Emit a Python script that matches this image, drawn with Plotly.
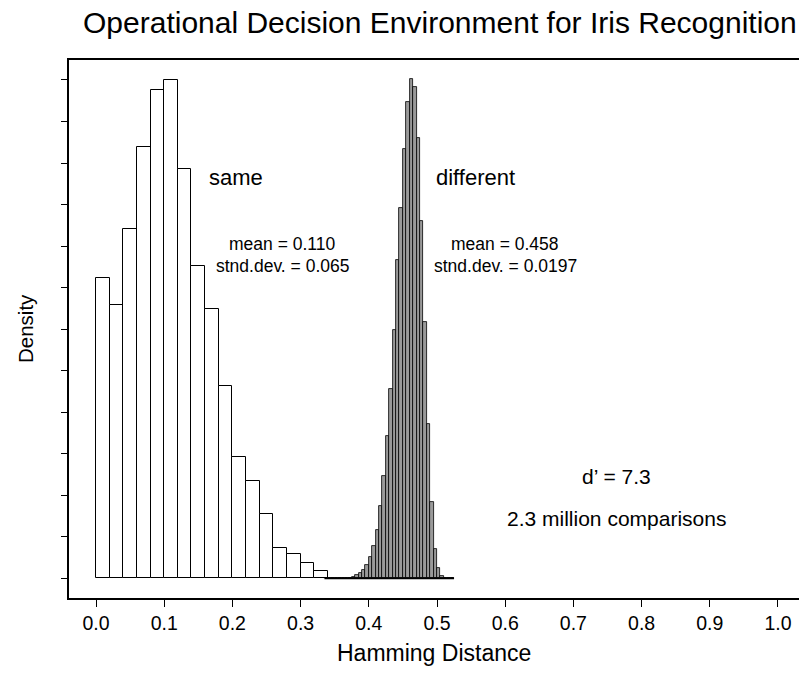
import plotly.graph_objects as go

# ---- data ----
same_bin_width = 0.02
same_bin_start = 0.0
same_heights = [7.23, 6.57, 8.41, 10.38, 11.75, 12.0, 9.85, 7.53, 6.49, 4.62,
                2.93, 2.35, 1.54, 0.72, 0.58, 0.36, 0.17]

diff_bin_width = 0.005
diff_bin_start = 0.335
diff_heights = [0, 0, 0, 0, 0, 0, 0,
                0.015, 0.04, 0.08, 0.12, 0.20, 0.31, 0.51, 0.77, 1.16, 1.73,
                2.46, 3.42, 4.57, 5.97, 7.66, 8.92, 10.34, 11.47, 12.02, 11.82,
                10.60, 8.61, 6.16, 3.71, 1.84, 0.71, 0.24, 0.06,
                0, 0, 0]

x_ticks = [0.0, 0.1, 0.2, 0.3, 0.4, 0.5, 0.6, 0.7, 0.8, 0.9, 1.0]
x_tick_labels = ["0.0", "0.1", "0.2", "0.3", "0.4", "0.5", "0.6", "0.7", "0.8", "0.9", "1.0"]
y_ticks = list(range(0, 13))

title_text = "Operational Decision Environment for Iris Recognition"
same_label = "same"
diff_label = "different"
same_stats = ["mean = 0.110", "stnd.dev. = 0.065"]
diff_stats = ["mean = 0.458", "stnd.dev. = 0.0197"]
dprime_text = "d\u2019 = 7.3"
comparisons_text = "2.3 million comparisons"

# ---- derived ----
same_centers = [same_bin_start + (i + 0.5) * same_bin_width for i in range(len(same_heights))]
diff_centers = [diff_bin_start + (i + 0.5) * diff_bin_width for i in range(len(diff_heights))]
diff_lo = diff_bin_start
diff_hi = diff_bin_start + len(diff_heights) * diff_bin_width

FONT = "Liberation Sans, Arial, Helvetica, sans-serif"

fig = go.Figure()
fig.add_trace(go.Bar(x=same_centers, y=same_heights, width=same_bin_width,
                     marker=dict(color="white", line=dict(color="black", width=1)),
                     showlegend=False, hoverinfo="skip"))
fig.add_trace(go.Bar(x=diff_centers, y=diff_heights, width=diff_bin_width,
                     marker=dict(color="#9a9a9a", line=dict(color="black", width=0.8)),
                     showlegend=False, hoverinfo="skip"))
fig.add_trace(go.Scatter(x=[diff_lo, diff_hi], y=[0, 0], mode="lines",
                         line=dict(color="black", width=2),
                         showlegend=False, hoverinfo="skip"))

ann = []
def txt(x, y, s, size):
    ann.append(dict(x=x, y=y, xref="x", yref="y", text=s, showarrow=False,
                    xanchor="center", yanchor="middle",
                    font=dict(family=FONT, size=size, color="black")))

txt(0.205, 9.64, same_label, 22)
txt(0.556, 9.64, diff_label, 22)
txt(0.273, 8.06, same_stats[0], 17.5)
txt(0.273, 7.52, same_stats[1], 17.5)
txt(0.60, 8.06, diff_stats[0], 17.5)
txt(0.60, 7.52, diff_stats[1], 17.5)
txt(0.7635, 2.44, dprime_text, 21)
txt(0.7635, 1.45, comparisons_text, 21)

# axis titles
ann.append(dict(x=0, y=0.5, xref="paper", yref="paper", text="Density", showarrow=False,
                textangle=-90, xanchor="center", yanchor="middle", xshift=-44,
                font=dict(family=FONT, size=20.5, color="black")))
ann.append(dict(x=0.5, y=0, xref="paper", yref="paper", text="Hamming Distance", showarrow=False,
                xanchor="center", yanchor="middle", yshift=-55,
                font=dict(family=FONT, size=23, color="black")))

fig.update_layout(
    width=799, height=673,
    margin=dict(l=69, r=0, t=60, b=75),
    paper_bgcolor="white", plot_bgcolor="white",
    barmode="overlay", bargap=0,
    title=dict(text=title_text, x=0.508, xref="paper", xanchor="center",
               y=1 - 22 / 673, yref="container", yanchor="middle",
               font=dict(family=FONT, size=30, color="black")),
    annotations=ann,
    font=dict(family=FONT, color="black"),
    xaxis=dict(range=[-0.0396, 1.0308], tickvals=x_ticks, ticktext=x_tick_labels,
               ticks="outside", ticklen=7, tickwidth=1, tickcolor="black",
               showline=True, linewidth=2, linecolor="black", mirror=True,
               showgrid=False, zeroline=False,
               tickfont=dict(family=FONT, size=19.5, color="black")),
    yaxis=dict(range=[-0.474, 12.48], tickvals=y_ticks, showticklabels=False,
               ticks="outside", ticklen=6, tickwidth=1, tickcolor="black",
               showline=True, linewidth=2, linecolor="black", mirror=False,
               showgrid=False, zeroline=False),
)

fig.write_html(
    "out.html",
    config={"displayModeBar": False},
    post_script="document.body.style.margin='0';document.body.style.overflow='hidden';",
)
